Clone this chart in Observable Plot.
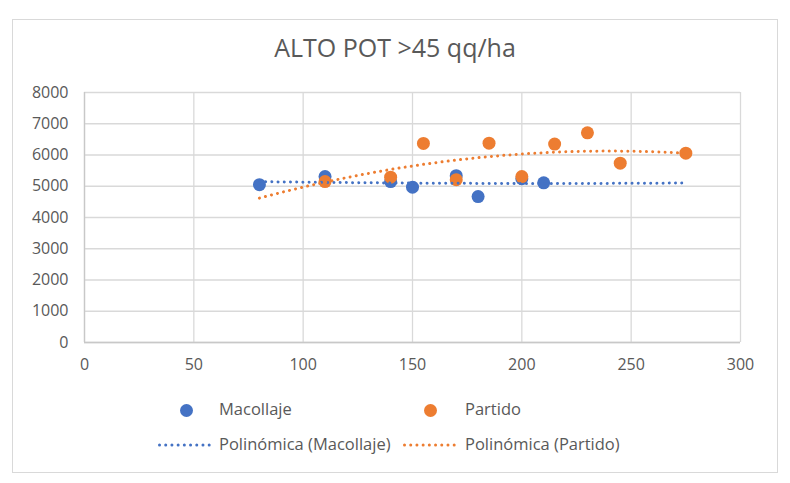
<!DOCTYPE html>
<html>
<head>
<meta charset="utf-8">
<script src="https://cdn.jsdelivr.net/npm/d3@7"></script>
<script src="https://cdn.jsdelivr.net/npm/@observablehq/plot@0.6"></script>
<style>
  html, body { margin: 0; padding: 0; background: #fff; }
  #chart { position: relative; width: 790px; height: 483px; font-family: "Open Sans", sans-serif; color: #595959; }
  #frame { position: absolute; left: 12px; top: 19px; width: 766px; height: 454px; border: 1.5px solid #d9d9d9; box-sizing: border-box; }
  #title { position: absolute; left: 0; width: 790px; top: 30px; text-align: center; font-size: 25px; line-height: 34px; color: #595959; }
  #chart svg { position: absolute; left: 0; top: 0; }
  .leg { position: absolute; font-size: 16.5px; color: #595959; white-space: nowrap; line-height: 20px; }
  .dot { position: absolute; width: 13px; height: 13px; border-radius: 50%; }
</style>
</head>
<body>
<div id="chart">
  <div id="frame"></div>
  <div id="title">ALTO POT &gt;45 qq/ha</div>
</div>
<script>
// Macollaje series
const macX = [80, 110, 140, 150, 170, 180, 200, 210];
const macY = [5050, 5310, 5150, 4970, 5340, 4670, 5240, 5110];
// Partido series
const parX = [110, 140, 155, 170, 185, 200, 215, 230, 245, 275];
const parY = [5150, 5290, 6370, 5210, 6380, 5310, 6350, 6710, 5740, 6060];

const xTicks = [0, 50, 100, 150, 200, 250, 300];
const yTicks = [0, 1000, 2000, 3000, 4000, 5000, 6000, 7000, 8000];

const seriesNames = ["Macollaje", "Partido"];
const trendNames = ["Polinómica (Macollaje)", "Polinómica (Partido)"];
const colors = ["#4472C4", "#ED7D31"];

// Second-order least-squares polynomial, like a spreadsheet trendline
function polyFit2(xs, ys) {
  const n = xs.length;
  let s = [0, 0, 0, 0, 0], t = [0, 0, 0];
  for (let i = 0; i < n; i++) {
    const x = xs[i], y = ys[i];
    for (let k = 0; k <= 4; k++) s[k] += Math.pow(x, k);
    for (let k = 0; k <= 2; k++) t[k] += y * Math.pow(x, k);
  }
  const A = [[s[0], s[1], s[2], t[0]], [s[1], s[2], s[3], t[1]], [s[2], s[3], s[4], t[2]]];
  for (let c = 0; c < 3; c++) {
    let p = c;
    for (let r = c + 1; r < 3; r++) if (Math.abs(A[r][c]) > Math.abs(A[p][c])) p = r;
    [A[c], A[p]] = [A[p], A[c]];
    for (let r = 0; r < 3; r++) {
      if (r === c) continue;
      const f = A[r][c] / A[c][c];
      for (let k = c; k < 4; k++) A[r][k] -= f * A[c][k];
    }
  }
  const a = A.map((row, i) => row[3] / row[i]);
  return x => a[0] + a[1] * x + a[2] * x * x;
}

const allX = macX.concat(parX);
const [x0, x1] = d3.extent(allX);
const fitMac = polyFit2(macX, macY);
const fitPar = polyFit2(parX, parY);
const trendX = d3.range(x0, x1 + 0.001, 1);

const points = [
  ...macX.map((x, i) => ({x, y: macY[i], s: seriesNames[0]})),
  ...parX.map((x, i) => ({x, y: parY[i], s: seriesNames[1]}))
];
const trends = [
  ...trendX.map(x => ({x, y: fitMac(x), s: seriesNames[0]})),
  ...trendX.map(x => ({x, y: fitPar(x), s: seriesNames[1]}))
];

const dotted = {strokeWidth: 3, strokeDasharray: "0.01,6.2", strokeLinecap: "round"};

const plot = Plot.plot({
  width: 790,
  height: 483,
  marginLeft: 84,
  marginRight: 50,
  marginTop: 92,
  marginBottom: 141,
  style: {fontFamily: "Open Sans, sans-serif", fontSize: "16px", color: "#595959", background: "transparent"},
  x: {domain: [0, 300], label: null},
  y: {domain: [0, 8000], label: null},
  color: {domain: seriesNames, range: colors},
  marks: [
    Plot.ruleX(xTicks, {stroke: "#d9d9d9", strokeWidth: 1.3, strokeOpacity: 1}),
    Plot.ruleY(yTicks, {stroke: "#d9d9d9", strokeWidth: 1.3, strokeOpacity: 1}),
    Plot.ruleY([0], {stroke: "#c8c8c8", strokeWidth: 1.3}),
    Plot.ruleX([0], {stroke: "#c8c8c8", strokeWidth: 1.3}),
    Plot.axisX({ticks: xTicks, tickSize: 0, tickPadding: 16, fontSize: 16, fill: "#595959", tickFormat: d => String(d)}),
    Plot.axisY({ticks: yTicks, tickSize: 0, tickPadding: 16, fontSize: 16, fill: "#595959", tickFormat: d => String(d)}),
    Plot.dot(points.filter(d => d.s === seriesNames[0]), {x: "x", y: "y", r: 6.5, fill: colors[0], stroke: null}),
    Plot.dot(points.filter(d => d.s === seriesNames[1]), {x: "x", y: "y", r: 6.5, fill: colors[1], stroke: null}),
    Plot.line(trends, {x: "x", y: "y", z: "s", stroke: "s", ...dotted, curve: "linear"})
  ]
});
document.getElementById("chart").appendChild(plot);

// Legend below the plot
const chart = document.getElementById("chart");
function addText(txt, left, cy) {
  const d = document.createElement("div");
  d.className = "leg"; d.textContent = txt;
  d.style.left = left + "px"; d.style.top = (cy - 10) + "px";
  chart.appendChild(d);
}
function addDot(color, cx, cy) {
  const d = document.createElement("div");
  d.className = "dot"; d.style.background = color;
  d.style.left = (cx - 6.5) + "px"; d.style.top = (cy - 6.5) + "px";
  chart.appendChild(d);
}
function addDash(color, x, y, w) {
  const ns = "http://www.w3.org/2000/svg";
  const s = document.createElementNS(ns, "svg");
  s.setAttribute("width", w); s.setAttribute("height", 6);
  s.style.position = "absolute"; s.style.left = x + "px"; s.style.top = (y - 3) + "px";
  const l = document.createElementNS(ns, "line");
  l.setAttribute("x1", 1.5); l.setAttribute("x2", w); l.setAttribute("y1", 3); l.setAttribute("y2", 3);
  l.setAttribute("stroke", color); l.setAttribute("stroke-width", dotted.strokeWidth);
  l.setAttribute("stroke-dasharray", dotted.strokeDasharray);
  l.setAttribute("stroke-linecap", "round");
  s.appendChild(l); chart.appendChild(s);
}
addDot(colors[0], 186, 410);
addText(seriesNames[0], 219, 409);
addDot(colors[1], 430, 410);
addText(seriesNames[1], 465, 409);
addDash(colors[0], 158, 445, 53);
addText(trendNames[0], 219, 444);
addDash(colors[1], 403, 445, 53);
addText(trendNames[1], 465, 444);
</script>
</body>
</html>
